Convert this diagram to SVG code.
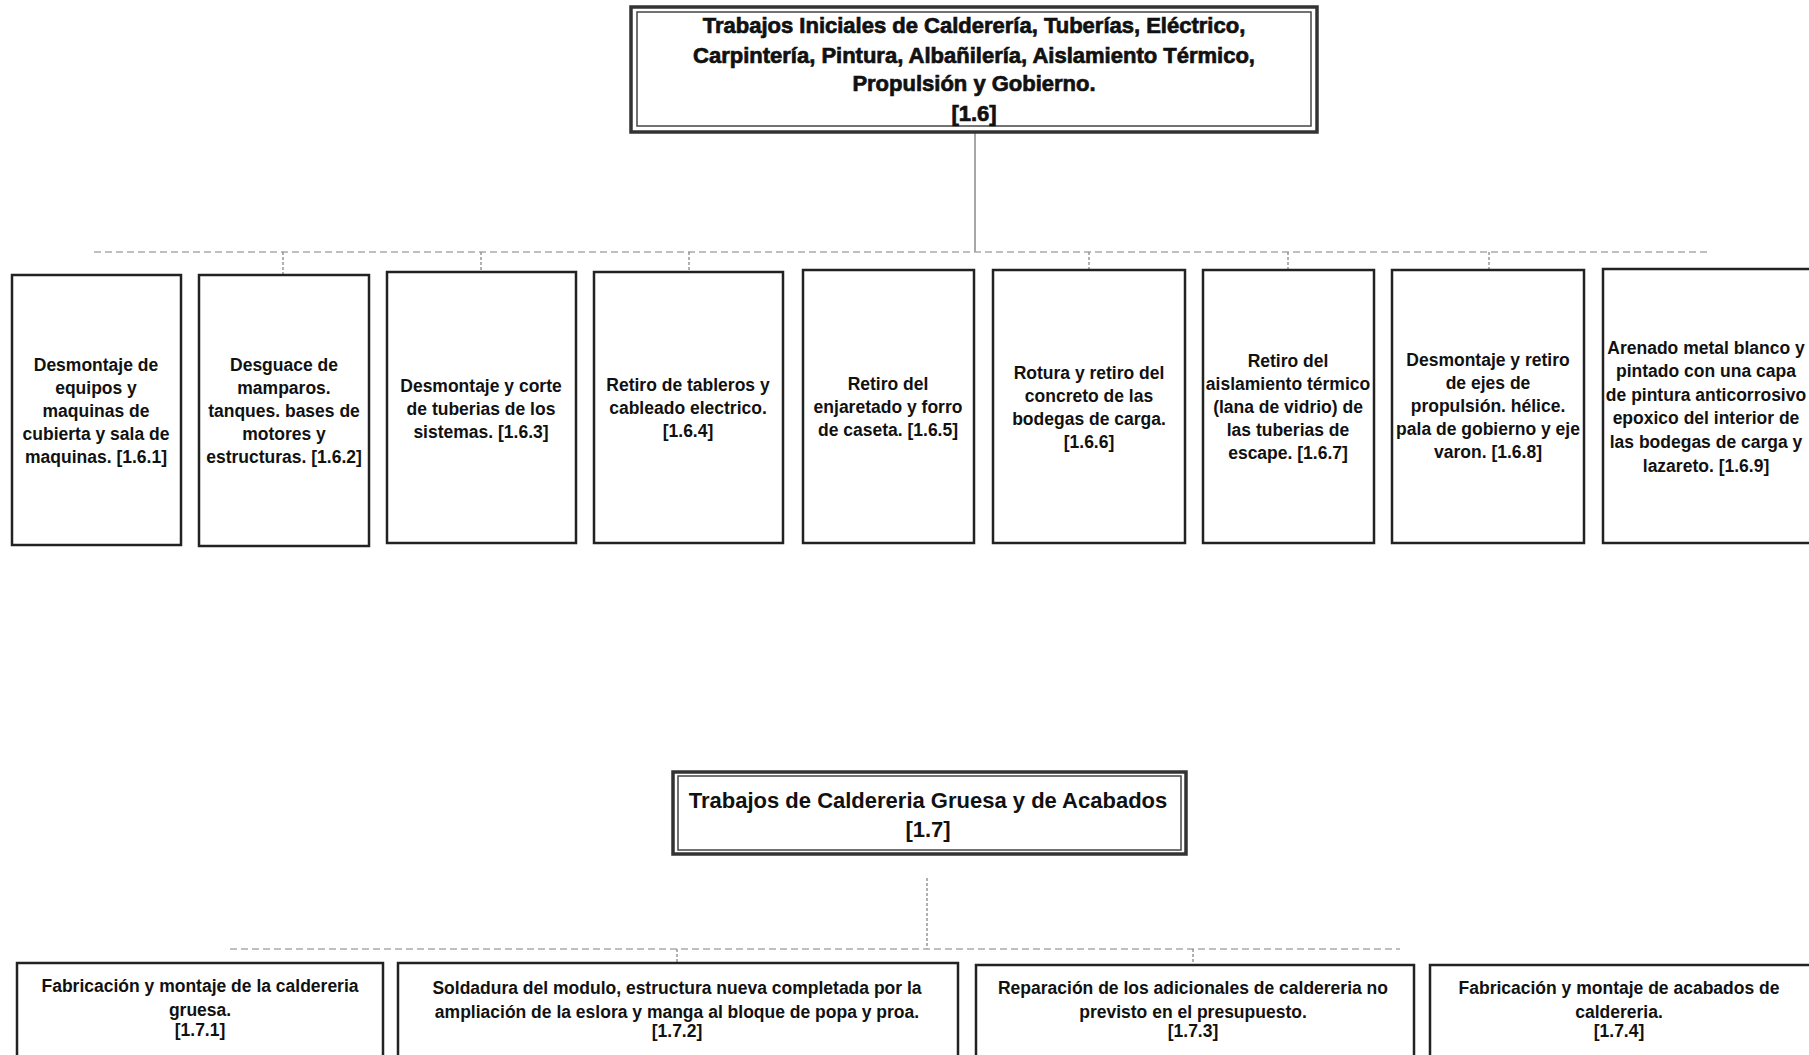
<svg xmlns="http://www.w3.org/2000/svg" width="1809" height="1055" viewBox="0 0 1809 1055">
<style>
  .bg{fill:#ffffff}
  .box{fill:#ffffff;stroke:#222;stroke-width:2.5}
  .outer{fill:#ffffff;stroke:#333;stroke-width:3.5}
  .inner{fill:none;stroke:#444;stroke-width:1.5}
  .t{font-family:"Liberation Sans",Arial,sans-serif;font-weight:bold;font-size:17.5px;fill:#111;text-anchor:middle}
  .h1{font-family:"Liberation Sans",Arial,sans-serif;font-weight:bold;font-size:22px;fill:#111;stroke:#111;stroke-width:0.7;text-anchor:middle}
  .h2{font-family:"Liberation Sans",Arial,sans-serif;font-weight:bold;font-size:22px;fill:#111;text-anchor:middle}
  .solid{stroke:#777;stroke-width:1.3;fill:none}
  .dash{stroke:#aaa;stroke-width:1.5;stroke-dasharray:7 4;fill:none}
  .drop{stroke:#888;stroke-width:1.3;stroke-dasharray:3 2;fill:none}
</style>
<rect class="bg" x="0" y="0" width="1809" height="1055"/>

<g id="connectors">
  <line class="solid" x1="975" y1="133" x2="975" y2="252"/>
  <line class="dash" x1="94" y1="252" x2="1710" y2="252"/>
  <line class="drop" x1="283" y1="252" x2="283" y2="275"/>
  <line class="drop" x1="481" y1="252" x2="481" y2="272"/>
  <line class="drop" x1="689" y1="252" x2="689" y2="272"/>
  <line class="drop" x1="1089" y1="252" x2="1089" y2="270"/>
  <line class="drop" x1="1288" y1="252" x2="1288" y2="270"/>
  <line class="drop" x1="1489" y1="252" x2="1489" y2="270"/>
  <line class="drop" x1="927" y1="878" x2="927" y2="949"/>
  <line class="dash" x1="230" y1="949" x2="1400" y2="949"/>
  <line class="drop" x1="677" y1="949" x2="677" y2="963"/>
  <line class="drop" x1="1193" y1="949" x2="1193" y2="965"/>
</g>

<g id="n1_6">
  <rect class="outer" x="631" y="7" width="686" height="125"/>
  <rect class="inner" x="637" y="12" width="674" height="114"/>
  <text class="h1" x="974" y="33">Trabajos Iniciales de Calderería, Tuberías, Eléctrico,</text>
  <text class="h1" x="974" y="63">Carpintería, Pintura, Albañilería, Aislamiento Térmico,</text>
  <text class="h1" x="974" y="91">Propulsión y Gobierno.</text>
  <text class="h1" x="974" y="121">[1.6]</text>
</g>

<g id="n1_6_1">
  <rect class="box" x="12" y="275" width="169" height="270"/>
  <text class="t" x="96" y="371">Desmontaje de</text>
  <text class="t" x="96" y="394">equipos y</text>
  <text class="t" x="96" y="417">maquinas de</text>
  <text class="t" x="96" y="440">cubierta y sala de</text>
  <text class="t" x="96" y="463">maquinas. [1.6.1]</text>
</g>

<g id="n1_6_2">
  <rect class="box" x="199" y="275" width="170" height="271"/>
  <text class="t" x="284" y="371">Desguace de</text>
  <text class="t" x="284" y="394">mamparos.</text>
  <text class="t" x="284" y="417">tanques. bases de</text>
  <text class="t" x="284" y="440">motores y</text>
  <text class="t" x="284" y="463">estructuras. [1.6.2]</text>
</g>

<g id="n1_6_3">
  <rect class="box" x="387" y="272" width="189" height="271"/>
  <text class="t" x="481" y="392">Desmontaje y corte</text>
  <text class="t" x="481" y="415">de tuberias de los</text>
  <text class="t" x="481" y="438">sistemas. [1.6.3]</text>
</g>

<g id="n1_6_4">
  <rect class="box" x="594" y="272" width="189" height="271"/>
  <text class="t" x="688" y="391">Retiro de tableros y</text>
  <text class="t" x="688" y="414">cableado electrico.</text>
  <text class="t" x="688" y="437">[1.6.4]</text>
</g>

<g id="n1_6_5">
  <rect class="box" x="803" y="270" width="171" height="273"/>
  <text class="t" x="888" y="390">Retiro del</text>
  <text class="t" x="888" y="413">enjaretado y forro</text>
  <text class="t" x="888" y="436">de caseta. [1.6.5]</text>
</g>

<g id="n1_6_6">
  <rect class="box" x="993" y="270" width="192" height="273"/>
  <text class="t" x="1089" y="379">Rotura y retiro del</text>
  <text class="t" x="1089" y="402">concreto de las</text>
  <text class="t" x="1089" y="425">bodegas de carga.</text>
  <text class="t" x="1089" y="448">[1.6.6]</text>
</g>

<g id="n1_6_7">
  <rect class="box" x="1203" y="270" width="171" height="273"/>
  <text class="t" x="1288" y="367">Retiro del</text>
  <text class="t" x="1288" y="390">aislamiento térmico</text>
  <text class="t" x="1288" y="413">(lana de vidrio) de</text>
  <text class="t" x="1288" y="436">las tuberias de</text>
  <text class="t" x="1288" y="459">escape. [1.6.7]</text>
</g>

<g id="n1_6_8">
  <rect class="box" x="1392" y="270" width="192" height="273"/>
  <text class="t" x="1488" y="366">Desmontaje y retiro</text>
  <text class="t" x="1488" y="389">de ejes de</text>
  <text class="t" x="1488" y="412">propulsión. hélice.</text>
  <text class="t" x="1488" y="435">pala de gobierno y eje</text>
  <text class="t" x="1488" y="458">varon. [1.6.8]</text>
</g>

<g id="n1_6_9">
  <rect class="box" x="1603" y="269" width="215" height="274"/>
  <text class="t" x="1706" y="354">Arenado metal blanco y</text>
  <text class="t" x="1706" y="377">pintado con una capa</text>
  <text class="t" x="1706" y="401">de pintura anticorrosivo</text>
  <text class="t" x="1706" y="424">epoxico del interior de</text>
  <text class="t" x="1706" y="448">las bodegas de carga y</text>
  <text class="t" x="1706" y="472">lazareto. [1.6.9]</text>
</g>

<g id="n1_7">
  <rect class="outer" x="673" y="772" width="513" height="82"/>
  <rect class="inner" x="678" y="776" width="503" height="74"/>
  <text class="h2" x="928" y="808">Trabajos de Caldereria Gruesa y de Acabados</text>
  <text class="h2" x="928" y="837">[1.7]</text>
</g>

<g id="n1_7_1">
  <rect class="box" x="17" y="963" width="366" height="110"/>
  <text class="t" x="200" y="992">Fabricación y montaje de la caldereria</text>
  <text class="t" x="200" y="1016">gruesa.</text>
  <text class="t" x="200" y="1036">[1.7.1]</text>
</g>

<g id="n1_7_2">
  <rect class="box" x="398" y="963" width="560" height="110"/>
  <text class="t" x="677" y="994">Soldadura del modulo, estructura nueva completada por la</text>
  <text class="t" x="677" y="1018">ampliación de la eslora y manga al  bloque de popa y proa.</text>
  <text class="t" x="677" y="1037">[1.7.2]</text>
</g>

<g id="n1_7_3">
  <rect class="box" x="976" y="965" width="438" height="110"/>
  <text class="t" x="1193" y="994">Reparación de los adicionales de caldereria no</text>
  <text class="t" x="1193" y="1018">previsto en el presupuesto.</text>
  <text class="t" x="1193" y="1037">[1.7.3]</text>
</g>

<g id="n1_7_4">
  <rect class="box" x="1430" y="965" width="390" height="110"/>
  <text class="t" x="1619" y="994">Fabricación y montaje de acabados de</text>
  <text class="t" x="1619" y="1018">caldereria.</text>
  <text class="t" x="1619" y="1037">[1.7.4]</text>
</g>
</svg>
